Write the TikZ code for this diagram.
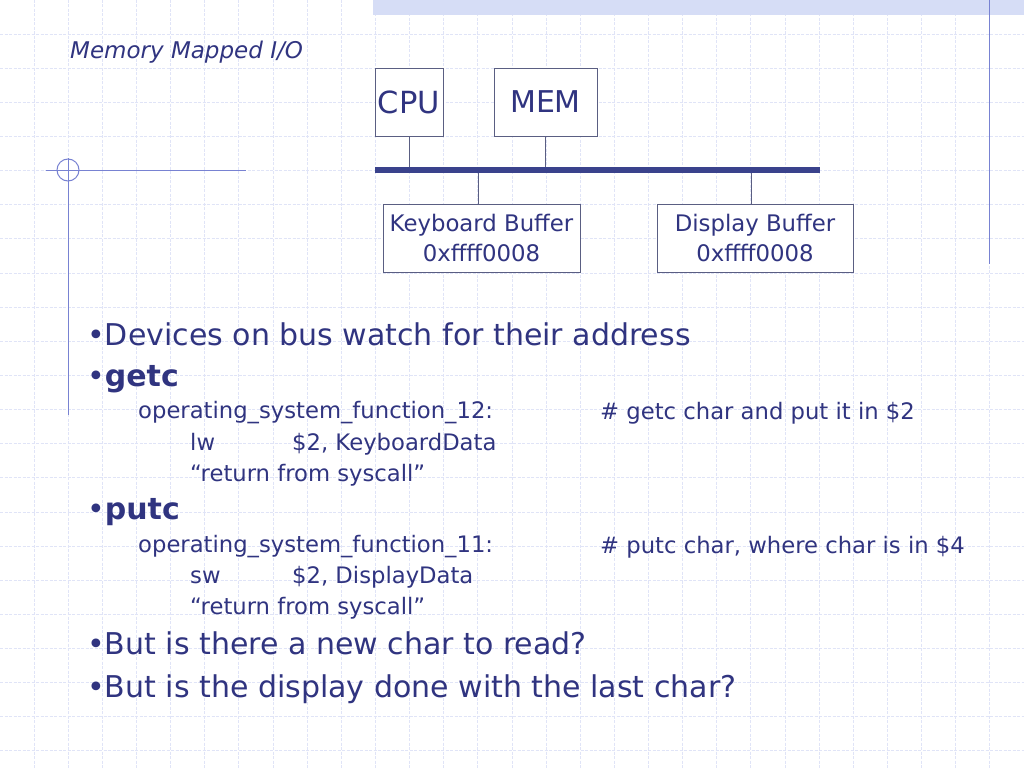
\documentclass[tikz,border=0pt]{standalone}
\usepackage{fontspec}
\setmainfont{DejaVu Sans}
\definecolor{ink}{RGB}{48,52,128}
\definecolor{busc}{RGB}{58,66,140}
\definecolor{boxc}{RGB}{90,94,130}
\definecolor{gridc}{RGB}{224,228,247}
\definecolor{bandc}{RGB}{214,221,246}
\definecolor{decoc}{RGB}{120,130,210}
\newcommand{\fsz}[1]{\fontsize{#1}{#1}\selectfont}
\begin{document}
\begin{tikzpicture}[x=1pt,y=-1pt,
  txt/.style={anchor=base west, inner sep=0pt, text=ink},
  lone/.style={txt, font=\fsz{30}},
  ltwo/.style={txt, font=\fsz{22.7}},
  unit/.style={draw=boxc, line width=1pt, fill=white, text=ink, inner sep=0pt, align=center},
  stub/.style={draw=boxc, line width=1pt},
  deco/.style={draw=decoc, line width=1pt}]
\useasboundingbox[fill=white] (0,0) rectangle (1024,768);
% grid
\foreach \k in {1,...,29} \draw[gridc, line width=1pt, dash pattern=on 3pt off 1.5pt] ({\k*34.133},0) -- ({\k*34.133},768);
\foreach \k in {1,...,22} \draw[gridc, line width=1pt, dash pattern=on 3pt off 1.5pt] (0,{\k*34.133}) -- (1024,{\k*34.133});
% top band
\fill[bandc] (373,0) rectangle (1024,15);
% decorations
\draw[deco] (989,0) -- (989,264);
\draw[deco] (68,158) -- (68,415);
\draw[deco] (46,170) -- (246,170);
\draw[deco] (68,170) circle[radius=11];
% title
\node[txt, font=\fsz{23}\itshape] (title) at (70,59) {Memory Mapped I/O};
% bus diagram
\coordinate (busL) at (375,170);
\coordinate (busR) at (820,170);
\node[unit, minimum width=68, minimum height=68, font=\fsz{30.5}] (cpu) at (409,102) {CPU};
\node[unit, minimum width=103, minimum height=68, font=\fsz{30}] (mem) at (545.5,102) {MEM};
\node[unit, minimum width=197, minimum height=68, font=\fsz{22.8}] (kb) at (481.5,238) {Keyboard Buffer\\[7pt]0xffff0008};
\node[unit, minimum width=196, minimum height=68, font=\fsz{22.8}] (disp) at (755,238) {Display Buffer\\[7pt]0xffff0008};
\draw[stub] (cpu.south) -- (cpu.south |- busL);
\draw[stub] (mem.south) -- (mem.south |- busL);
\draw[stub] ([xshift=-3.5]kb.north) -- ([xshift=-3.5]kb.north |- busL);
\draw[stub] ([xshift=-4]disp.north) -- ([xshift=-4]disp.north |- busL);
\draw[busc, line width=6pt] (busL) -- (busR);
% text
\node[lone] (t1) at (87,345) {•Devices on bus watch for their address};
\node[lone] (t2) at (87,386) {•\textbf{getc}};
\node[ltwo] (t3) at (138,418) {operating\_system\_function\_12:};
\node[ltwo] (t3c) at (600,419) {\# getc char and put it in \$2};
\node[ltwo] (t4) at (190,450) {lw};
\node[ltwo] (t4b) at (292,450) {\$2, KeyboardData};
\node[ltwo] (t5) at (190,481) {“return from syscall”};
\node[lone] (t6) at (87,519) {•\textbf{putc}};
\node[ltwo] (t7) at (138,552) {operating\_system\_function\_11:};
\node[ltwo] (t7c) at (600,553) {\# putc char, where char is in \$4};
\node[ltwo] (t8) at (190,583) {sw};
\node[ltwo] (t8b) at (292,583) {\$2, DisplayData};
\node[ltwo] (t9) at (190,614) {“return from syscall”};
\node[lone] (t10) at (87,654) {•But is there a new char to read?};
\node[lone] (t11) at (87,697) {•But is the display done with the last char?};
\end{tikzpicture}
\end{document}
